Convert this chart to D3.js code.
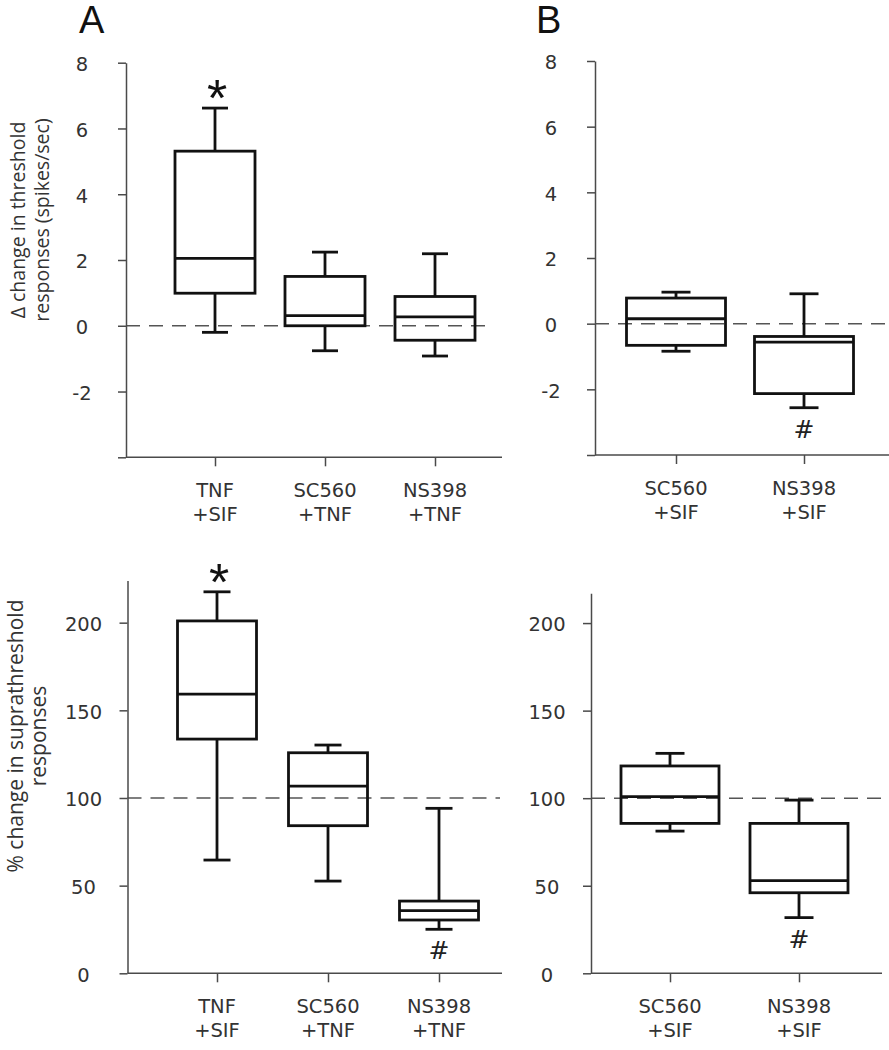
<!DOCTYPE html>
<html>
<head>
<meta charset="utf-8">
<script src="https://cdn.jsdelivr.net/npm/d3@7/dist/d3.min.js"></script>
<style>
  html, body { margin: 0; padding: 0; background: #fff; }
  svg { display: block; }
</style>
</head>
<body>
<svg id="chart" width="889" height="1050"></svg>
<script>
// ---------------- DATA ----------------
// Panel A (top): threshold responses
const catsTopA = ["TNF +SIF", "SC560 +TNF", "NS398 +TNF"];
const topA_whiskerLow  = [-0.20, -0.76, -0.92];
const topA_q1          = [0.99, 0.00, -0.44];
const topA_median      = [2.05, 0.31, 0.27];
const topA_q3          = [5.31, 1.50, 0.89];
const topA_whiskerHigh = [6.62, 2.24, 2.19];
const topA_marks       = ["*", "", ""];

// Panel B (top)
const catsTopB = ["SC560 +SIF", "NS398 +SIF"];
const topB_whiskerLow  = [-0.84, -2.56];
const topB_q1          = [-0.66, -2.13];
const topB_median      = [0.15, -0.56];
const topB_q3          = [0.78, -0.39];
const topB_whiskerHigh = [0.96, 0.91];
const topB_marks       = ["", "#"];

// Panel A (bottom): suprathreshold responses
const catsBotA = ["TNF +SIF", "SC560 +TNF", "NS398 +TNF"];
const botA_whiskerLow  = [64.6, 52.6, 25.1];
const botA_q1          = [133.6, 84.2, 30.4];
const botA_median      = [159.2, 106.8, 35.7];
const botA_q3          = [201.0, 125.8, 41.2];
const botA_whiskerHigh = [217.6, 130.2, 94.1];
const botA_marks       = ["*", "", "#"];

// Panel B (bottom)
const catsBotB = ["SC560 +SIF", "NS398 +SIF"];
const botB_whiskerLow  = [81.2, 31.8];
const botB_q1          = [85.6, 46.0];
const botB_median      = [100.9, 52.9];
const botB_q3          = [118.4, 85.6];
const botB_whiskerHigh = [125.6, 98.9];
const botB_marks       = ["", "#"];

// Axis tick values
const topTicks = [-4, -2, 0, 2, 4, 6, 8];
const topTickLabels = ["", "-2", "0", "2", "4", "6", "8"];
const botTicks = [0, 50, 100, 150, 200];
const topRef = 0;
const botRef = 100;

// ---------------- DRAW ----------------
const svg = d3.select("#chart");
svg.append("rect").attr("width", 889).attr("height", 1050).attr("fill", "#fff");

const TICK_FONT = "'DejaVu Sans', Verdana, sans-serif";
const AXIS_COLOR = "#4a4a4a";
const TEXT_COLOR = "#333";

function buildRows(cats, lo, q1, med, q3, hi, marks) {
  return cats.map((c, i) => ({cat: c, lo: lo[i], q1: q1[i], med: med[i], q3: q3[i], hi: hi[i], mark: marks[i]}));
}

function drawPanel(cfg) {
  const g = svg.append("g");
  const y = d3.scaleLinear().domain(cfg.yDomain).range(cfg.yRange);
  const x = d3.scalePoint().domain(cfg.rows.map(d => d.cat)).range(cfg.xRange);
  const baseY = cfg.yRange[0];

  // reference dashed line
  g.append("line")
    .attr("x1", cfg.axisX).attr("x2", cfg.dashEnd)
    .attr("y1", y(cfg.ref)).attr("y2", y(cfg.ref))
    .attr("stroke", "#555").attr("stroke-width", 1.5)
    .attr("stroke-dasharray", "14,9");

  // y axis
  const yAxis = d3.axisLeft(y).tickValues(cfg.ticks).tickSize(8).tickSizeOuter(0)
    .tickFormat((d, i) => cfg.tickLabels[i]);
  const ya = g.append("g").attr("transform", `translate(${cfg.axisX},0)`).call(yAxis);
  ya.select(".domain").attr("stroke", AXIS_COLOR).attr("stroke-width", 1.5);
  ya.selectAll(".tick line").attr("stroke", AXIS_COLOR).attr("stroke-width", 1.5);
  ya.selectAll(".tick text")
    .attr("x", -44).attr("dy", "0.4em")
    .attr("text-anchor", "middle")
    .attr("fill", TEXT_COLOR)
    .style("font-family", TICK_FONT).style("font-size", "19.5px");

  // x axis
  const xAxis = d3.axisBottom(x).tickSize(9).tickSizeOuter(0).tickFormat("");
  const xa = g.append("g").attr("transform", `translate(0,${baseY})`).call(xAxis);
  xa.select(".domain").remove();
  xa.selectAll(".tick line").attr("stroke", AXIS_COLOR).attr("stroke-width", 1.5);
  g.append("line")
    .attr("x1", cfg.axisX).attr("x2", cfg.axisRight)
    .attr("y1", baseY).attr("y2", baseY)
    .attr("stroke", AXIS_COLOR).attr("stroke-width", 1.5);

  // category labels (two lines)
  cfg.rows.forEach(d => {
    const parts = d.cat.split(" ");
    const t = g.append("text")
      .attr("text-anchor", "middle")
      .attr("fill", TEXT_COLOR)
      .style("font-family", TICK_FONT).style("font-size", "19.5px");
    parts.forEach((p, k) => {
      t.append("tspan").attr("x", x(d.cat)).attr("y", baseY + 40 + k * 24).text(p);
    });
  });

  // boxes
  const bw = cfg.boxW, cw = cfg.capW;
  const bx = g.selectAll("g.box").data(cfg.rows).join("g").attr("class", "box")
    .attr("stroke", "#111").attr("stroke-width", 2.8).attr("fill", "none");
  // whiskers
  bx.append("line").attr("x1", d => x(d.cat)).attr("x2", d => x(d.cat))
    .attr("y1", d => y(d.hi)).attr("y2", d => y(d.q3));
  bx.append("line").attr("x1", d => x(d.cat)).attr("x2", d => x(d.cat))
    .attr("y1", d => y(d.q1)).attr("y2", d => y(d.lo));
  // caps
  bx.append("line").attr("x1", d => x(d.cat) - cw / 2).attr("x2", d => x(d.cat) + cw / 2)
    .attr("y1", d => y(d.hi)).attr("y2", d => y(d.hi));
  bx.append("line").attr("x1", d => x(d.cat) - cw / 2).attr("x2", d => x(d.cat) + cw / 2)
    .attr("y1", d => y(d.lo)).attr("y2", d => y(d.lo));
  // box
  bx.append("rect")
    .attr("x", d => x(d.cat) - bw / 2).attr("width", bw)
    .attr("y", d => y(d.q3)).attr("height", d => y(d.q1) - y(d.q3));
  // median
  bx.append("line").attr("x1", d => x(d.cat) - bw / 2).attr("x2", d => x(d.cat) + bw / 2)
    .attr("y1", d => y(d.med)).attr("y2", d => y(d.med));

  // significance marks
  cfg.rows.forEach(d => {
    if (d.mark === "*") {
      g.append("text").attr("x", x(d.cat) + 2).attr("y", y(d.hi) + 8)
        .attr("text-anchor", "middle").attr("fill", "#111")
        .style("font-family", "'Liberation Sans', Arial, sans-serif").style("font-size", "52px")
        .text("*");
    } else if (d.mark === "#") {
      g.append("text").attr("x", x(d.cat)).attr("y", y(d.lo) + 30)
        .attr("text-anchor", "middle").attr("fill", "#222")
        .style("font-family", TICK_FONT).style("font-size", "25px")
        .text("#");
    }
  });
}

drawPanel({
  rows: buildRows(catsTopA, topA_whiskerLow, topA_q1, topA_median, topA_q3, topA_whiskerHigh, topA_marks),
  yDomain: [-4, 8], yRange: [457.3, 62.7], xRange: [215, 435],
  axisX: 126, axisRight: 502, dashEnd: 493, boxW: 80, capW: 26,
  ticks: topTicks, tickLabels: topTickLabels, ref: topRef
});
drawPanel({
  rows: buildRows(catsTopB, topB_whiskerLow, topB_q1, topB_median, topB_q3, topB_whiskerHigh, topB_marks),
  yDomain: [-4, 8], yRange: [455, 61], xRange: [676, 804],
  axisX: 595, axisRight: 889, dashEnd: 889, boxW: 99, capW: 29,
  ticks: topTicks, tickLabels: topTickLabels, ref: topRef
});
drawPanel({
  rows: buildRows(catsBotA, botA_whiskerLow, botA_q1, botA_median, botA_q3, botA_whiskerHigh, botA_marks),
  yDomain: [0, 224], yRange: [973.3, 580.6], xRange: [217, 439],
  axisX: 127.5, axisRight: 502, dashEnd: 500, boxW: 79, capW: 27,
  ticks: botTicks, tickLabels: botTicks.map(String), ref: botRef
});
drawPanel({
  rows: buildRows(catsBotB, botB_whiskerLow, botB_q1, botB_median, botB_q3, botB_whiskerHigh, botB_marks),
  yDomain: [0, 217], yRange: [973.3, 593.3], xRange: [670, 799],
  axisX: 591, axisRight: 882, dashEnd: 885, boxW: 98, capW: 29,
  ticks: botTicks, tickLabels: botTicks.map(String), ref: botRef
});

// panel letters
svg.append("text").attr("x", 79).attr("y", 33).text("A")
  .style("font-family", "'Liberation Sans', Arial, sans-serif").style("font-size", "38px").attr("fill", "#111");
svg.append("text").attr("x", 536).attr("y", 33).text("B")
  .style("font-family", "'Liberation Sans', Arial, sans-serif").style("font-size", "38px").attr("fill", "#111");

// y-axis titles
function yTitle(cy, lines, baselines, size) {
  const t = svg.append("text")
    .attr("transform", `rotate(-90)`)
    .attr("text-anchor", "middle").attr("fill", TEXT_COLOR)
    .style("font-family", "'Open Sans', sans-serif").style("font-size", size + "px");
  lines.forEach((l, i) => {
    t.append("tspan").attr("x", -cy).attr("y", baselines[i]).text(l);
  });
}
yTitle(220, ["\u0394 change in threshold", "responses (spikes/sec)"], [25, 49], 19.5);
yTitle(736, ["% change in suprathreshold", "responses"], [23, 46], 21);
</script>
</body>
</html>
